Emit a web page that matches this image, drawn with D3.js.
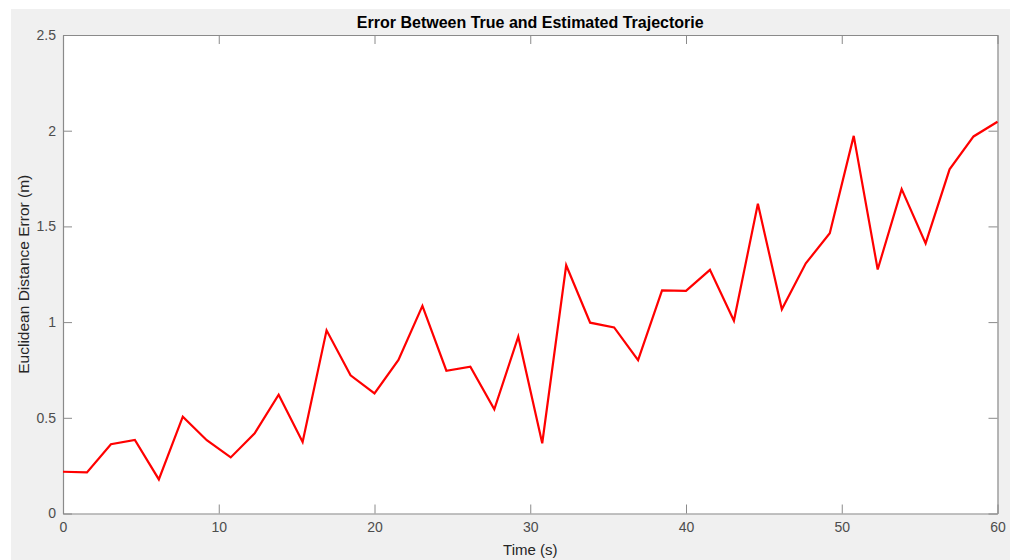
<!DOCTYPE html>
<html>
<head>
<meta charset="utf-8">
<script src="https://cdn.jsdelivr.net/npm/d3@7"></script>
<style>
  html, body { margin: 0; padding: 0; background: #ffffff; }
  svg { display: block; }
  text { font-family: "Liberation Sans", Arial, Helvetica, sans-serif; }
</style>
</head>
<body>
<svg id="chart" width="1010" height="560"></svg>
<script>
// Sample times (s)
const times = [0, 1.538, 3.077, 4.615, 6.154, 7.692, 9.231, 10.769, 12.308, 13.846,
  15.385, 16.923, 18.462, 20.0, 21.538, 23.077, 24.615, 26.154, 27.692, 29.231,
  30.769, 32.308, 33.846, 35.385, 36.923, 38.462, 40.0, 41.538, 43.077, 44.615,
  46.154, 47.692, 49.231, 50.769, 52.308, 53.846, 55.385, 56.923, 58.462, 60.0];

// Euclidean distance error (m) at each sample
const errors = [0.218, 0.215, 0.362, 0.384, 0.178, 0.506, 0.383, 0.293, 0.419, 0.621,
  0.374, 0.957, 0.722, 0.627, 0.802, 1.085, 0.746, 0.767, 0.544, 0.924,
  0.367, 1.297, 0.997, 0.972, 0.801, 1.166, 1.163, 1.273, 1.007, 1.618,
  1.067, 1.307, 1.464, 1.973, 1.275, 1.695, 1.411, 1.798, 1.970, 2.047];

const xTicks = [0, 10, 20, 30, 40, 50, 60];
const yTicks = [0, 0.5, 1, 1.5, 2, 2.5];
const yTickLabels = ["0", "0.5", "1", "1.5", "2", "2.5"];

const titleText = "Error Between True and Estimated Trajectorie";
const xLabel = "Time (s)";
const yLabel = "Euclidean Distance Error (m)";

const svg = d3.select("#chart");
const W = 1010, H = 560;
const box = { left: 63, top: 35, right: 997.5, bottom: 513.5 };

// figure background
svg.append("rect").attr("x", 11).attr("y", 9).attr("width", W - 11).attr("height", H - 9)
  .attr("fill", "#f0f0f0");

const x = d3.scaleLinear().domain([0, 60]).range([box.left, box.right]);
const y = d3.scaleLinear().domain([0, 2.5]).range([box.bottom, box.top]);

// axes area
svg.append("rect")
  .attr("x", box.left).attr("y", box.top)
  .attr("width", box.right - box.left).attr("height", box.bottom - box.top)
  .attr("fill", "#ffffff");

const axisColor = "#8a8a8a";
const labelColor = "#4d4d4d";
const tickLen = 9;

function styleAxis(g, showLabels) {
  g.select(".domain").attr("stroke", axisColor).attr("stroke-width", 1.2);
  g.selectAll(".tick line").attr("stroke", axisColor).attr("stroke-width", 1);
  g.selectAll(".tick text")
    .attr("fill", labelColor)
    .style("font-size", "14px")
    .style("display", showLabels ? null : "none");
}

// bottom axis (ticks pointing inward)
const gx = svg.append("g").attr("transform", `translate(0,${box.bottom})`)
  .call(d3.axisBottom(x).tickValues(xTicks).tickFormat(d3.format("d"))
    .tickSizeInner(-tickLen).tickSizeOuter(0).tickPadding(9));
styleAxis(gx, true);

// top mirror axis
const gxt = svg.append("g").attr("transform", `translate(0,${box.top})`)
  .call(d3.axisTop(x).tickValues(xTicks).tickSizeInner(-tickLen).tickSizeOuter(0));
styleAxis(gxt, false);

// left axis
const gy = svg.append("g").attr("transform", `translate(${box.left},0)`)
  .call(d3.axisLeft(y).tickValues(yTicks).tickFormat((d, i) => yTickLabels[i])
    .tickSizeInner(-tickLen).tickSizeOuter(0).tickPadding(7));
styleAxis(gy, true);

// right mirror axis
const gyr = svg.append("g").attr("transform", `translate(${box.right},0)`)
  .call(d3.axisRight(y).tickValues(yTicks).tickSizeInner(-tickLen).tickSizeOuter(0));
styleAxis(gyr, false);

// error trace
const line = d3.line().x((d, i) => x(times[i])).y(d => y(d));
svg.append("path")
  .datum(errors)
  .attr("d", line)
  .attr("fill", "none")
  .attr("stroke", "#ff0000")
  .attr("stroke-width", 2.2)
  .attr("stroke-linejoin", "miter");

// title
svg.append("text")
  .attr("x", (box.left + box.right) / 2).attr("y", 28)
  .attr("text-anchor", "middle")
  .attr("fill", "#000000")
  .style("font-size", "16px").style("font-weight", "bold")
  .text(titleText);

// axis labels
svg.append("text")
  .attr("x", (box.left + box.right) / 2).attr("y", 555)
  .attr("text-anchor", "middle")
  .attr("fill", "#262626")
  .style("font-size", "15px")
  .text(xLabel);

svg.append("text")
  .attr("transform", `translate(29,${(box.top + box.bottom) / 2}) rotate(-90)`)
  .attr("text-anchor", "middle")
  .attr("fill", "#262626")
  .style("font-size", "15.5px")
  .text(yLabel);
</script>
</body>
</html>
